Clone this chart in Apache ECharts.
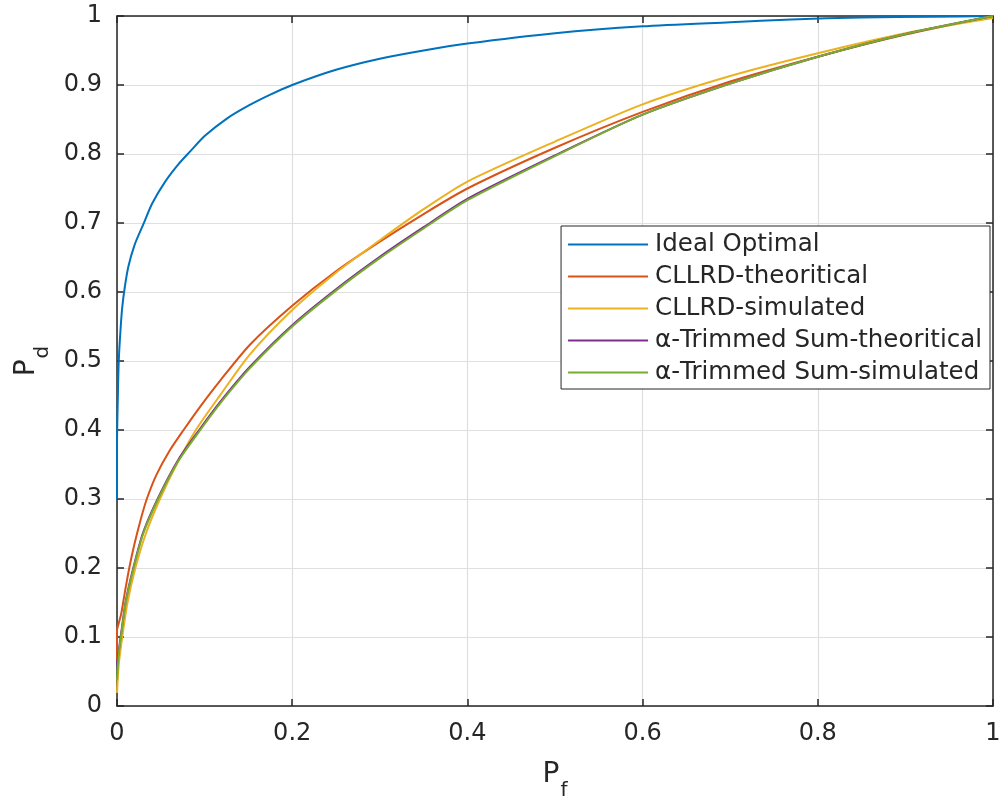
<!DOCTYPE html>
<html>
<head>
<meta charset="utf-8">
<script src="https://cdn.jsdelivr.net/npm/echarts@6/dist/echarts.min.js"></script>
<style>html,body{margin:0;padding:0;background:#fff}#c{width:999px;height:802px}</style>
</head>
<body>
<div id="c"></div>
<script>
var seriesNames = ['Ideal Optimal', 'CLLRD-theoritical', 'CLLRD-simulated', 'α-Trimmed Sum-theoritical', 'α-Trimmed Sum-simulated'];
var xTicks = [0, 0.2, 0.4, 0.6, 0.8, 1];
var yTicks = [0, 0.1, 0.2, 0.3, 0.4, 0.5, 0.6, 0.7, 0.8, 0.9, 1];

var idealPf = [0, 0, 0.001, 0.002, 0.004, 0.006, 0.009, 0.013, 0.02, 0.03, 0.04, 0.055, 0.07, 0.083, 0.1, 0.125, 0.15, 0.175, 0.2, 0.25, 0.3, 0.35, 0.4, 0.5, 0.6, 0.7, 0.77, 0.85, 0.93, 1];
var idealPd = [0.30, 0.38, 0.45, 0.50, 0.545, 0.578, 0.608, 0.637, 0.668, 0.698, 0.728, 0.76, 0.785, 0.803, 0.826, 0.851, 0.87, 0.886, 0.90, 0.922, 0.938, 0.95, 0.96, 0.975, 0.985, 0.991, 0.995, 0.998, 0.999, 1.0];

var cllrdTheoPf = [0, 0, 0.002, 0.005, 0.009, 0.014, 0.02, 0.027, 0.034, 0.045, 0.06, 0.076, 0.095, 0.118, 0.152, 0.2, 0.25, 0.3, 0.35, 0.4, 0.5, 0.6, 0.7, 0.8, 0.9, 1];
var cllrdTheoPd = [0.067, 0.11, 0.12, 0.135, 0.165, 0.2, 0.235, 0.27, 0.3, 0.335, 0.37, 0.4, 0.434, 0.472, 0.524, 0.58, 0.63, 0.673, 0.713, 0.75, 0.809, 0.861, 0.905, 0.941, 0.973, 1.0];

var cllrdSimPf = [0, 0.002, 0.006, 0.012, 0.021, 0.033, 0.049, 0.068, 0.09, 0.118, 0.152, 0.2, 0.25, 0.3, 0.35, 0.4, 0.5, 0.6, 0.7, 0.8, 0.9, 1];
var cllrdSimPd = [0.019, 0.06, 0.1, 0.15, 0.2, 0.25, 0.3, 0.35, 0.4, 0.451, 0.51, 0.574, 0.628, 0.675, 0.72, 0.76, 0.818, 0.872, 0.913, 0.946, 0.975, 0.997];

var atsTheoPf = [0, 0.002, 0.005, 0.01, 0.019, 0.03, 0.047, 0.07, 0.095, 0.118, 0.152, 0.2, 0.25, 0.3, 0.35, 0.4, 0.5, 0.6, 0.7, 0.8, 0.9, 1];
var atsTheoPd = [0.06, 0.08, 0.108, 0.152, 0.202, 0.252, 0.302, 0.357, 0.402, 0.441, 0.492, 0.552, 0.604, 0.651, 0.694, 0.735, 0.798, 0.857, 0.902, 0.941, 0.974, 1.0];

var atsSimPf = [0, 0.002, 0.005, 0.01, 0.019, 0.03, 0.047, 0.07, 0.095, 0.118, 0.152, 0.2, 0.25, 0.3, 0.35, 0.4, 0.5, 0.6, 0.7, 0.8, 0.9, 1];
var atsSimPd = [0.037, 0.075, 0.105, 0.15, 0.2, 0.25, 0.3, 0.355, 0.4, 0.439, 0.49, 0.55, 0.602, 0.649, 0.692, 0.733, 0.797, 0.857, 0.902, 0.941, 0.974, 1.0];

var colors = ['#0072BD', '#D95319', '#EDB120', '#7E2F8E', '#77AC30'];

function pairs(xs, ys) { return xs.map(function (x, i) { return [x, ys[i]]; }); }
var allData = [
  pairs(idealPf, idealPd),
  pairs(cllrdTheoPf, cllrdTheoPd),
  pairs(cllrdSimPf, cllrdSimPd),
  pairs(atsTheoPf, atsTheoPd),
  pairs(atsSimPf, atsSimPd)
];

var FONT = 'DejaVu Sans';
var AX = '#262626';
function fmt(v) { return String(Math.round(v * 10) / 10); }

var chart = echarts.init(document.getElementById('c'), null, { renderer: 'canvas' });
chart.setOption({
  animation: false,
  backgroundColor: '#fff',
  color: colors,
  textStyle: { fontFamily: FONT },
  grid: { left: 117, right: 6, top: 16, bottom: 96, containLabel: false, outerBoundsMode: 'none' },
  legend: {
    orient: 'vertical',
    right: 9,
    top: 226,
    backgroundColor: '#fff',
    borderColor: AX,
    borderWidth: 1,
    padding: [6, 8, 4, 7],
    icon: 'rect',
    itemWidth: 80,
    itemHeight: 2,
    itemGap: 7,
    data: seriesNames,
    textStyle: { fontFamily: FONT, fontSize: 24.5, lineHeight: 24, color: AX, padding: [0, 0, 0, 2] }
  },
  xAxis: [{
    type: 'value', min: 0, max: 1, interval: 0.2, position: 'bottom',
    name: '{p|P}{s|f}', nameLocation: 'middle', nameGap: 55,
    nameTextStyle: { rich: {
      p: { fontFamily: FONT, fontSize: 28, lineHeight: 28, color: AX, verticalAlign: 'top' },
      s: { fontFamily: FONT, fontSize: 20, lineHeight: 20, color: AX, verticalAlign: 'top', padding: [20, 0, 0, 1] }
    } },
    axisLine: { show: true, onZero: false, lineStyle: { color: AX, width: 1.5 } },
    axisTick: { show: true, inside: true, length: 7, lineStyle: { color: AX, width: 1.5 } },
    axisLabel: { fontFamily: FONT, fontSize: 24, color: AX, margin: 16, formatter: fmt, customValues: xTicks },
    splitLine: { show: true, lineStyle: { color: '#dfdfdf', width: 1.2 } }
  }, {
    type: 'value', min: 0, max: 1, interval: 0.2, position: 'top',
    axisLine: { show: true, onZero: false, lineStyle: { color: AX, width: 1.5 } },
    axisTick: { show: true, inside: true, length: 7, lineStyle: { color: AX, width: 1.5 } },
    axisLabel: { show: false },
    splitLine: { show: false }
  }],
  yAxis: [{
    type: 'value', min: 0, max: 1, interval: 0.1, position: 'left',
    name: '{p|P}{s|d}', nameLocation: 'middle', nameGap: 69, nameRotate: 90,
    nameTextStyle: { rich: {
      p: { fontFamily: FONT, fontSize: 28, lineHeight: 28, color: AX, verticalAlign: 'top' },
      s: { fontFamily: FONT, fontSize: 20, lineHeight: 20, color: AX, verticalAlign: 'top', padding: [20, 0, 0, 1] }
    } },
    axisLine: { show: true, onZero: false, lineStyle: { color: AX, width: 1.5 } },
    axisTick: { show: true, inside: true, length: 7, lineStyle: { color: AX, width: 1.5 } },
    axisLabel: { fontFamily: FONT, fontSize: 24, color: AX, margin: 15, formatter: fmt },
    splitLine: { show: true, lineStyle: { color: '#dfdfdf', width: 1.2 } }
  }, {
    type: 'value', min: 0, max: 1, interval: 0.1, position: 'right',
    axisLine: { show: true, onZero: false, lineStyle: { color: AX, width: 1.5 } },
    axisTick: { show: true, inside: true, length: 7, lineStyle: { color: AX, width: 1.5 } },
    axisLabel: { show: false },
    splitLine: { show: false }
  }],
  series: allData.map(function (d, i) {
    return {
      name: seriesNames[i],
      type: 'line',
      xAxisIndex: 0,
      yAxisIndex: 0,
      data: d,
      symbol: 'none',
      smooth: 0.25,
      lineStyle: { width: 2, color: colors[i] },
      itemStyle: { color: colors[i] },
      z: 2 + i
    };
  })
});
</script>
</body>
</html>
